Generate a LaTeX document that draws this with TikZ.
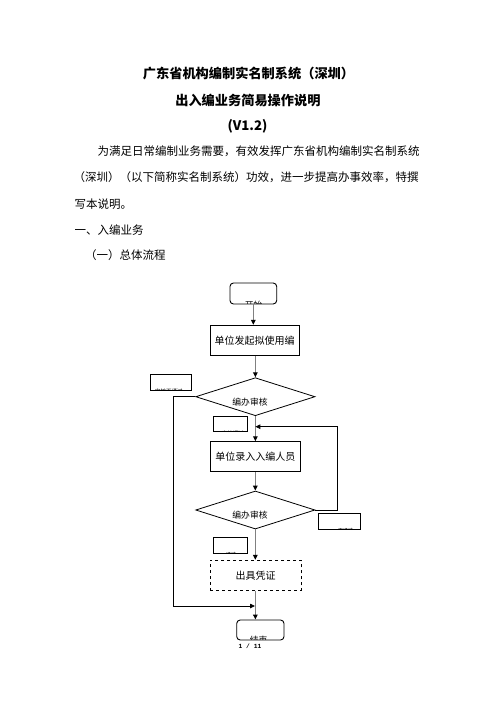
\documentclass[tikz,border=0pt]{standalone}
\usepackage{fontspec}
\setmainfont{Noto Sans CJK SC}
\newfontfamily\pnfont{Liberation Mono}
\usetikzlibrary{arrows.meta,shapes.geometric}
\definecolor{flowgray}{HTML}{808080}
\tikzset{
  txt/.style={inner sep=0, anchor=base west, font=\fontsize{11.5}{14}\selectfont},
  ttl/.style={inner sep=0, anchor=base, font=\fontsize{13.2}{16}\selectfont\bfseries},
  ftxt/.style={inner sep=0, anchor=base, font=\fontsize{8.8}{10}\selectfont},
  proc/.style={draw, line width=0.9pt, inner sep=0, minimum height=30pt},
  term/.style={draw, line width=0.9pt, inner sep=0, rounded corners=3.5pt},
  dec/.style={draw, diamond, line width=0.8pt, inner sep=0, minimum width=119.3pt, minimum height=38pt},
  lbl/.style={draw, line width=0.9pt, inner sep=0},
  frag/.style={inner sep=0, anchor=base west},
  flow/.style={draw=flowgray, line width=1.5pt, -{Triangle[color=black,length=5pt,width=4.5pt]}},
  loop/.style={draw=black, line width=0.8pt, -{Triangle[color=black,length=5pt,width=4.5pt]}}
}
\begin{document}
\begin{tikzpicture}[x=1pt,y=-1pt]
\fill[white] (0,0) rectangle (496,702);
\useasboundingbox (0,0) rectangle (496,702);

% header text
\node[ttl] (t1) at (248.5,78.3) {广东省机构编制实名制系统（深圳）};
\node[ttl] (t2) at (247.9,105.0) {出入编业务简易操作说明};
\node[ttl] (t3) at (247.5,130.7) {(V1.2)};
\node[txt] (p1) at (97.5,155.1) {为满足日常编制业务需要，有效发挥广东省机构编制实名制系统};
\node[txt] (p2) at (73.5,181.7) {（深圳）（以下简称实名制系统）功效，进一步提高办事效率，特撰};
\node[txt] (p3) at (74.5,208.4) {写本说明。};
\node[txt] (h1) at (74.5,234.4) {一、入编业务};
\node[txt] (h2) at (85,259.4) {（一）总体流程};

% flowchart shapes
\node[term, minimum width=46.7pt, minimum height=21pt] (start) at (253.35,293.5) {};
\node[proc, minimum width=89.3pt] (box1) at (254.65,340.3) {单位发起拟使用编};
\node[dec] (d1) at (255.35,396.7) {};
\node[ftxt] (d1t) at (250,405.0) {编办审核};
\node[proc, minimum width=90.7pt] (box2) at (255.35,456.7) {单位录入入编人员};
\node[dec] (d2) at (255.35,510) {};
\node[ftxt] (d2t) at (250,518.3) {编办审核};
\node[proc, dashed, minimum width=91pt] (box3) at (255.5,575.3) {出具凭证};
\node[term, minimum width=47.3pt, minimum height=20pt] (stop) at (260.35,630) {};

% label boxes
\node[lbl, minimum width=41pt, minimum height=15.7pt] (lb1) at (171.2,382.15) {};
\node[lbl, minimum width=34pt, minimum height=15.7pt] (lb2) at (230.3,423.85) {};
\node[lbl, minimum width=42.4pt, minimum height=16pt] (lb3) at (339.5,521.3) {};
\node[lbl, minimum width=34pt, minimum height=16pt] (lb4) at (230.3,545.3) {};

% clipped texts
\begin{scope}
  \clip ([shift={(0.6,-0.6)}]start.south west) rectangle ([shift={(-0.6,0.6)}]start.north east);
  \node[ftxt] (starttxt) at (253.7,308.6) {开始};
\end{scope}
\begin{scope}
  \clip ([shift={(0.6,-0.6)}]stop.south west) rectangle ([shift={(-0.6,0.6)}]stop.north east);
  \node[ftxt] (stoptxt) at (258.7,643.4) {结束};
\end{scope}
\begin{scope}
  \clip ([shift={(0.6,-0.6)}]lb1.south west) rectangle ([shift={(-0.6,0.6)}]lb1.north east);
  \node[frag, font=\fontsize{5.5}{6}\selectfont] (lb1t) at (155,393.6) {审核不通过};
\end{scope}
\begin{scope}
  \clip ([shift={(0.6,-0.6)}]lb2.south west) rectangle ([shift={(-0.6,0.6)}]lb2.north east);
  \node[frag, font=\fontsize{5.5}{6}\selectfont] (lb2t) at (221.7,435.6) {审核通过};
\end{scope}
\begin{scope}
  \clip ([shift={(0.6,-0.6)}]lb3.south west) rectangle ([shift={(-0.6,0.6)}]lb3.north east);
  \node[frag, font=\fontsize{5}{6}\selectfont] (lb3t) at (338,532.2) {不通过};
\end{scope}
\begin{scope}
  \clip ([shift={(0.6,-0.6)}]lb4.south west) rectangle ([shift={(-0.6,0.6)}]lb4.north east);
  \node[frag, font=\fontsize{5}{6}\selectfont] (lb4t) at (226,556.2) {通过};
\end{scope}

% connectors
\coordinate (merge) at (255,606);
\coordinate (fb) at (255.35,426.7);
\draw[flow] (start.south) -- (start.south |- box1.north);
\draw[flow] (d1.north |- box1.south) -- (d1.north);
\draw[flow] (d1.south) -- (box2.north);
\draw[flow] (box2.south) -- (d2.north);
\draw[flow] (d2.south) -- (d2.south |- box3.north);
\draw[flow] (d2.south |- box3.south) -- (d2.south |- stop.north);
\draw[loop] (d1.west) -- ++(-22.4,0) |- (merge);
\draw[loop] (d2.east) -- ++(22.4,0) |- (fb);

% page number
\node[inner sep=0, anchor=base, font=\pnfont\bfseries\fontsize{6.3}{7}\selectfont] (pg) at (250,648.6) {1 / 11};
\end{tikzpicture}
\end{document}
